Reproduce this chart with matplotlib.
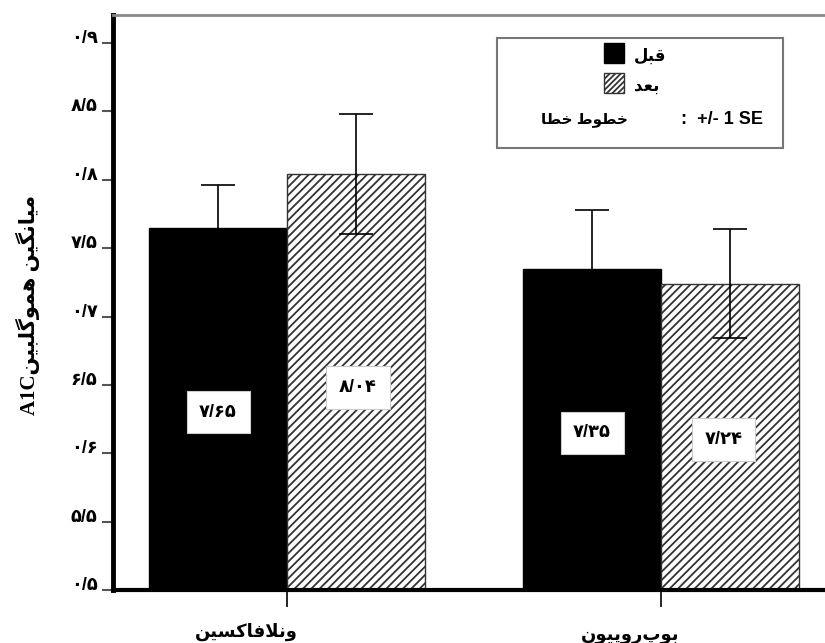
import numpy as np
import matplotlib
matplotlib.use("Agg")
import matplotlib.pyplot as plt
from matplotlib.patches import Rectangle
import matplotlib.transforms as mtransforms

# --- data ---
categories = ['ونلافاکسین', 'بوپروپیون']
before = [7.65, 7.35]
after = [8.04, 7.24]
before_se = [0.31, 0.43]
after_se = [0.44, 0.40]
before_text = ['۷/۶۵', '۷/۳۵']
after_text = ['۸/۰۴', '۷/۲۴']
ytick_vals = [5.0, 5.5, 6.0, 6.5, 7.0, 7.5, 8.0, 8.5, 9.0]
ytick_text = ['۰/۵', '۵/۵', '۰/۶', '۶/۵', '۰/۷', '۷/۵', '۰/۸', '۸/۵', '۰/۹']
ylabel = 'میانگین هموگلبین'
legend_before = 'قبل'
legend_after = 'بعد'
legend_err = 'خطوط خطا'

# simple persian shaping (matplotlib does no arabic shaping)
FORMS = {
    'ا': (0xFE8D, 0xFE8E, None, None),
    'د': (0xFEA9, 0xFEAA, None, None),
    'و': (0xFEED, 0xFEEE, None, None),
    'ب': (0xFE8F, 0xFE90, 0xFE91, 0xFE92),
    'پ': (0xFB56, 0xFB57, 0xFB58, 0xFB59),
    'خ': (0xFEA5, 0xFEA6, 0xFEA7, 0xFEA8),
    'ط': (0xFEC1, 0xFEC2, 0xFEC3, 0xFEC4),
    'ع': (0xFEC9, 0xFECA, 0xFECB, 0xFECC),
    'ف': (0xFED1, 0xFED2, 0xFED3, 0xFED4),
    'ق': (0xFED5, 0xFED6, 0xFED7, 0xFED8),
    'ک': (0xFB8E, 0xFB8F, 0xFB90, 0xFB91),
    'گ': (0xFB92, 0xFB93, 0xFB94, 0xFB95),
    'ل': (0xFEDD, 0xFEDE, 0xFEDF, 0xFEE0),
    'م': (0xFEE1, 0xFEE2, 0xFEE3, 0xFEE4),
    'ن': (0xFEE5, 0xFEE6, 0xFEE7, 0xFEE8),
    'ه': (0xFEE9, 0xFEEA, 0xFEEB, 0xFEEC),
    'ی': (0xFBFC, 0xFBFD, 0xFBFE, 0xFBFF),
    'س': (0xFEB1, 0xFEB2, 0xFEB3, 0xFEB4),
}


def joins_next(c):
    return c in FORMS and FORMS[c][2] is not None


def shape(word):
    out = []
    n = len(word)
    i = 0
    while i < n:
        c = word[i]
        if c not in FORMS:
            out.append(c)
            i += 1
            continue
        link_prev = i > 0 and joins_next(word[i - 1])
        if c == 'ل' and i + 1 < n and word[i + 1] == 'ا':
            out.append(chr(0xFEFC if link_prev else 0xFEFB))
            i += 2
            continue
        link_next = joins_next(c) and i + 1 < n and word[i + 1] in FORMS
        iso, fin, ini, med = FORMS[c]
        if link_prev and link_next:
            g = med
        elif link_prev:
            g = fin
        elif link_next:
            g = ini
        else:
            g = iso
        out.append(chr(g))
        i += 1
    return ''.join(reversed(out))


plt.rcParams['font.family'] = ['Liberation Sans', 'DejaVu Sans']
plt.rcParams['hatch.linewidth'] = 1.3

fig = plt.figure(figsize=(8.25, 6.43), dpi=100)
ax = fig.add_axes([113 / 825, 53 / 643, 712 / 825, 575 / 643])

x = np.arange(len(categories))
w = 0.369
ax.bar(x - w / 2, before, w, color='black', edgecolor='black', linewidth=1)
ax.bar(x + w / 2, after, w, color='white', edgecolor='#333333', hatch='////', linewidth=1)
err_kw = dict(fmt='none', ecolor='black', elinewidth=1.2, capsize=12, capthick=1.2)
ax.errorbar(x - w / 2, before, yerr=before_se, **err_kw)
ax.errorbar(x + w / 2, after, yerr=after_se, **err_kw)

# value boxes
box = dict(boxstyle='square,pad=0.7', fc='white', ec='#cccccc', lw=0.8)
before_pos = [(-0.184, 6.30), (0.816, 6.15)]
after_pos = [(0.19, 6.48), (1.168, 6.10)]
for (px, py), t in zip(before_pos + after_pos, before_text + after_text):
    ax.text(px, py, t, ha='center', va='center', fontsize=13, fontweight='bold', bbox=box)

ax.set_xlim(-0.465, 1.4385)
ax.set_ylim(5.0, 9.205)

ax.set_yticks(ytick_vals)
ax.set_yticklabels(ytick_text, fontsize=13, fontweight='bold')
for lab in ax.get_yticklabels():
    lab.set_va('baseline')
ax.tick_params(axis='y', length=8, width=1.5, color='#555555', pad=3)

ax.set_xticks(x)
ax.set_xticklabels([])
ax.tick_params(axis='x', length=12, width=1.2, color='black')
trans = mtransforms.blended_transform_factory(ax.transData, fig.transFigure)
cat_dx = [0.03, 0.05]
cat_y = [11 / 643, 7 / 643]
for xi, cat, dx, cy in zip(x, categories, cat_dx, cat_y):
    ax.text(xi + dx, cy, shape(cat), transform=trans, ha='right', va='center',
            fontsize=13, fontweight='bold')

ax.spines['left'].set_linewidth(3.5)
ax.spines['left'].set_color('black')
ax.spines['bottom'].set_linewidth(3)
ax.spines['bottom'].set_color('black')
ax.spines['top'].set_linewidth(2)
ax.spines['top'].set_color('#888888')
ax.spines['right'].set_visible(False)

fig.text(28 / 825, 1 - 305 / 643, 'A1C' + shape(ylabel), rotation=90, ha='center', va='center',
         fontsize=15, fontweight='bold', family=['Liberation Serif', 'DejaVu Sans'])

# legend box drawn by hand
W, H = 825, 643
fig.patches.append(Rectangle((497 / W, 1 - 148 / H), 286 / W, 110 / H, transform=fig.transFigure,
                             fc='white', ec='#777777', lw=1.5))
fig.patches.append(Rectangle((604 / W, 1 - 63 / H), 20 / W, 20 / H, transform=fig.transFigure,
                             fc='black', ec='black', lw=1))
fig.patches.append(Rectangle((604 / W, 1 - 93 / H), 20 / W, 20 / H, transform=fig.transFigure,
                             fc='white', ec='#333333', hatch='//////', lw=1))
fig.text(634 / W, 1 - 56 / H, shape(legend_before), ha='left', va='center', fontsize=12, fontweight='bold')
fig.text(634 / W, 1 - 86 / H, shape(legend_after), ha='left', va='center', fontsize=12, fontweight='bold')
fig.text(763 / W, 1 - 120 / H, ':  +/- 1 SE', ha='right', va='center', fontsize=13, fontweight='bold')
fig.text(628 / W, 1 - 120 / H, shape(legend_err), ha='right', va='center', fontsize=11, fontweight='bold')

fig.savefig('out.png', dpi=100)
